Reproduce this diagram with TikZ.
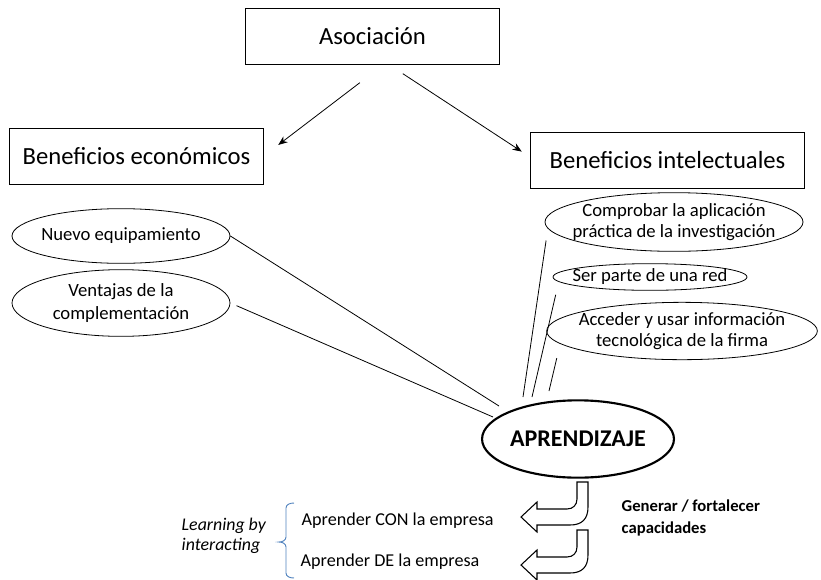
\documentclass[tikz,border=0pt]{standalone}
\usepackage{fontspec}
\setmainfont{Carlito}
\usepackage{tikz}
\usetikzlibrary{shapes.geometric, positioning, arrows.meta}
\definecolor{bracecol}{RGB}{79,129,189}
\tikzset{>={Stealth[length=7pt,width=5.5pt]}}
\tikzset{box/.style={draw, line width=0.6pt, minimum height=42pt, font=\fontsize{18.5}{22}\selectfont}}
\tikzset{oval/.style={draw, ellipse, line width=0.6pt, inner sep=0pt}}
\tikzset{every label/.style={font=\fontsize{14}{17}\selectfont, align=center}}
\tikzset{link/.style={line width=0.6pt}}
\tikzset{uturn/.style={draw, line width=0.8pt, fill=white, line join=miter}}

\begin{document}
\begin{tikzpicture}[x=0.75pt, y=-0.75pt]
\useasboundingbox (0,0) rectangle (821,579);

% top boxes
\node[box, minimum width=191pt] (asoc) at (372.5,36.5) {Asociación};
\node[box, minimum width=190pt] (beco) at (136.5,156) {Beneficios económicos};
\node[box, minimum width=206pt] (bint) at (667.5,160) {Beneficios intelectuales};

\draw[->, line width=0.6pt, shorten <=22pt] ([xshift=8pt]asoc.south) -- ([xshift=11pt,yshift=-13pt]beco.north east);
\draw[->, line width=0.6pt, shorten <=12pt] ([xshift=12.7pt]asoc.south) -- ([xshift=-6pt,yshift=-15pt]bint.north west);

% ovals
\node[oval, minimum width=163.5pt, minimum height=41pt, label={center:Nuevo equipamiento}] (neq) at (121,236) {};
\node[oval, minimum width=163.5pt, minimum height=50pt, label={center:{Ventajas de la\\complementación}}] (ven) at (121,303) {};
\node[oval, minimum width=193.5pt, minimum height=44pt, label={[font=\fontsize{14}{15.5}\selectfont]center:{Comprobar la aplicación\\práctica de la investigación}}] (comp) at (674,222) {};
\node[oval, minimum width=145.5pt, minimum height=20pt, label={center:Ser parte de una red}] (ser) at (650,277) {};
\node[oval, minimum width=203pt, minimum height=43pt, label={[font=\fontsize{14}{15.5}\selectfont]center:{Acceder y usar información\\tecnológica de la firma}}] (acc) at (682,331) {};

\node[ellipse, draw, line width=1.6pt, minimum width=127.5pt, minimum height=58pt, inner sep=0pt,
  font=\fontsize{18}{20}\selectfont\bfseries] (apr) at (578,439) {APRENDIZAJE};

% lines towards APRENDIZAJE
\coordinate (t1) at (499,406);
\coordinate (t2) at (493,417);
\coordinate (t3) at (523,397);
\coordinate (t4) at (532,397);
\coordinate (t5) at (549,391);
\draw[link] (neq.east) -- (t1);
\draw[link, shorten <=5pt] (ven.east) -- (t2);
\draw[link, shorten <=9pt] (comp.183) -- (t3);
\draw[link, shorten <=10pt] (ser.183) -- (t4);
\draw[link, shorten <=11pt] (acc.186) -- (t5);

% bent arrows
\coordinate (u1) at (577,482);
\coordinate (u2) at (577,530);
\foreach \u in {u1,u2}
  \draw[uturn] (\u) -- ++(0,17) .. controls +(0,6) and +(6,0) .. ++(-10,10) -- ++(-30,0)
    -- ++(0,-7) -- ++(-16,15) -- ++(16,15) -- ++(0,-7) -- ++(33,0)
    .. controls +(12,0) and +(0,12) .. ++(18,-18) -- ++(0,-25) -- cycle;

\node[anchor=west, align=left, font=\fontsize{12.5}{16}\selectfont\bfseries] (gen) at (617,518) {Generar / fortalecer\\capacidades};

% learning by interacting
\node[anchor=west, font=\fontsize{13.6}{16}\selectfont] (acon) at (297,521) {Aprender CON la empresa};
\node[anchor=west, font=\fontsize{13.6}{16}\selectfont] (ade) at (296,562) {Aprender DE la empresa};
\node[anchor=west, align=left, font=\fontsize{13.4}{15}\selectfont\itshape] (lbi) at (177,536) {Learning by\\interacting};
\draw[bracecol, line width=0.7pt] (294,503) to[out=180,in=90] (286,508) -- (286,537)
  to[out=-90,in=0] (279,542) to[out=0,in=90] (286,547) -- (286,573) to[out=-90,in=180] (294,578);
\end{tikzpicture}
\end{document}
